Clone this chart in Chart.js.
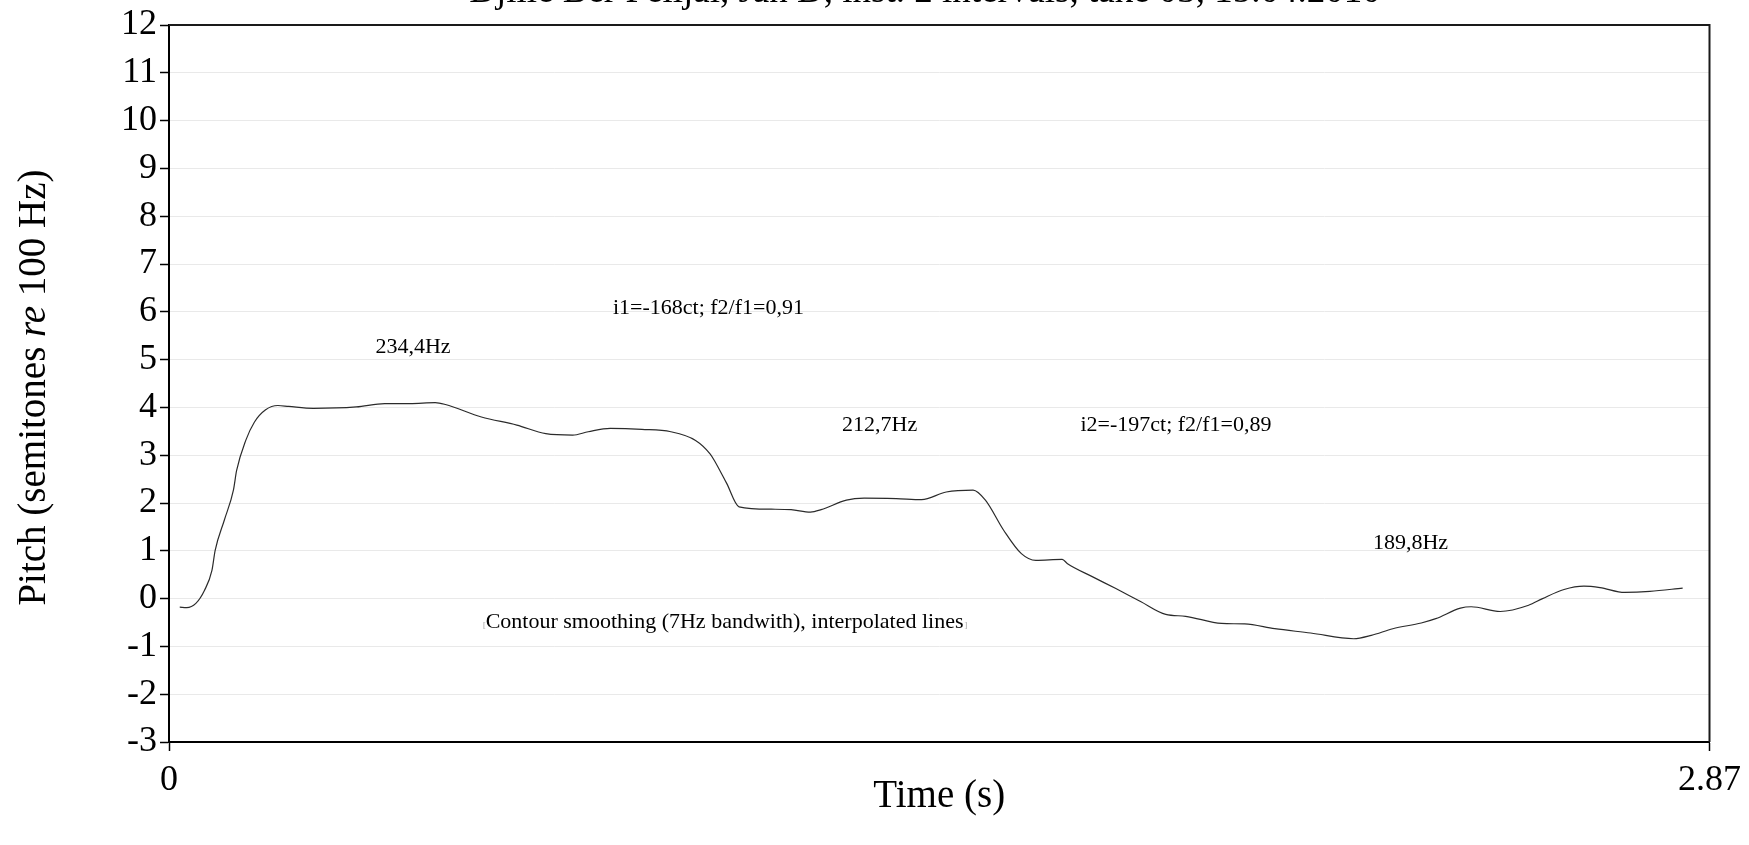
<!DOCTYPE html>
<html>
<head>
<meta charset="utf-8">
<script src="https://cdn.jsdelivr.net/npm/chart.js@4/dist/chart.umd.min.js"></script>
<style>
  html, body { margin: 0; padding: 0; background: #ffffff; }
  #wrap { width: 1749px; height: 845px; }
</style>
</head>
<body>
<div id="wrap"><canvas id="c" width="1749" height="845"></canvas></div>
<script>
// ---- data ----
const times = [0.020, 0.033, 0.050, 0.066, 0.080, 0.086, 0.103, 0.120, 0.126, 0.143,
  0.159, 0.180, 0.203, 0.223, 0.269, 0.349, 0.402, 0.449, 0.496, 0.515,
  0.582, 0.648, 0.702, 0.752, 0.781, 0.822, 0.881, 0.935, 0.981, 1.008,
  1.016, 1.039, 1.062, 1.122, 1.159, 1.195, 1.215, 1.262, 1.295, 1.355,
  1.402, 1.448, 1.498, 1.521, 1.555, 1.588, 1.615, 1.664, 1.674, 1.720,
  1.764, 1.810, 1.857, 1.894, 1.961, 2.004, 2.060, 2.127, 2.207, 2.240,
  2.280, 2.333, 2.360, 2.406, 2.426, 2.480, 2.533, 2.559, 2.599, 2.636,
  2.666, 2.712, 2.759, 2.820];
const pitches = [-0.18, -0.19, -0.10, 0.17, 0.59, 1.01, 1.64, 2.27, 2.68, 3.31,
  3.69, 3.95, 4.04, 4.02, 3.98, 4.01, 4.08, 4.08, 4.10, 4.06,
  3.80, 3.63, 3.45, 3.42, 3.49, 3.56, 3.54, 3.49, 3.31, 3.03,
  2.89, 2.41, 1.92, 1.87, 1.86, 1.81, 1.86, 2.06, 2.10, 2.09,
  2.07, 2.23, 2.27, 2.06, 1.43, 0.94, 0.80, 0.82, 0.73, 0.46,
  0.21, -0.06, -0.33, -0.37, -0.52, -0.53, -0.63, -0.72, -0.84, -0.77,
  -0.63, -0.51, -0.42, -0.20, -0.17, -0.27, -0.14, 0.00, 0.19, 0.26,
  0.23, 0.13, 0.15, 0.22];

const xMin = 0, xMax = 2.87;
const yMin = -3, yMax = 12, yStep = 1;
const xTickValues = [0, 2.87];
const xTickLabels = ['0', '2.87'];

const annoTexts = ['234,4Hz', 'i1=-168ct; f2/f1=0,91', '212,7Hz', 'i2=-197ct; f2/f1=0,89', '189,8Hz',
  'Contour smoothing (7Hz bandwith), interpolated lines'];
const annoTimes = [0.4545, 1.005, 1.324, 1.876, 2.313, 1.035];
const annoPitches = [5.13, 5.95, 3.51, 3.51, 1.03, -0.61];

const titleText = 'Djilie Ber Pelijai, Jan D, inst. 2 intervals, take 03, 15.04.2010';
const xTitle = 'Time (s)';
const yTitleParts = [['Pitch (semitones ', false], ['re', true], [' 100 Hz)', false]];

// ---- drawing ----
const SERIF = "'Liberation Serif', 'Times New Roman', serif";

const decorPlugin = {
  id: 'decor',
  afterDraw(chart) {
    const ctx = chart.ctx;
    const a = chart.chartArea;
    const xs = chart.scales.x, ys = chart.scales.y;
    ctx.save();
    // top & right frame
    ctx.strokeStyle = '#1a1a1a';
    ctx.lineWidth = 2;
    ctx.beginPath();
    ctx.moveTo(a.left, a.top);
    ctx.lineTo(a.right, a.top);
    ctx.lineTo(a.right, a.bottom);
    ctx.stroke();

    // annotations
    ctx.fillStyle = '#000';
    ctx.textBaseline = 'alphabetic';
    ctx.textAlign = 'center';
    for (let i = 0; i < annoTexts.length; i++) {
      const px = xs.getPixelForValue(annoTimes[i]);
      const py = ys.getPixelForValue(annoPitches[i]);
      const small = i === annoTexts.length - 1;
      ctx.font = '22px ' + SERIF;
      ctx.fillText(annoTexts[i], px, py);
      if (small) {
        const w = ctx.measureText(annoTexts[i]).width;
        ctx.font = '8px ' + SERIF;
        ctx.fillStyle = '#999';
        ctx.textAlign = 'right';
        ctx.fillText('[', px - w / 2, py);
        ctx.textAlign = 'left';
        ctx.fillText(']', px + w / 2 + 1, py);
        ctx.fillStyle = '#000';
        ctx.textAlign = 'center';
      }
    }

    // title (cut by the top of the picture)
    ctx.font = '37px ' + SERIF;
    ctx.textAlign = 'center';
    ctx.fillText(titleText, 925, 2);

    // x title
    ctx.font = '39px ' + SERIF;
    ctx.fillText(xTitle, (a.left + a.right) / 2, 807);

    // y title, rotated, with italic "re"
    const parts = yTitleParts.map(p => {
      ctx.font = (p[1] ? 'italic ' : '') + '39px ' + SERIF;
      return { t: p[0], it: p[1], w: ctx.measureText(p[0]).width };
    });
    const total = parts.reduce((s, p) => s + p.w, 0);
    ctx.translate(0, (a.top + a.bottom) / 2 + 4);
    ctx.rotate(-Math.PI / 2);
    ctx.textAlign = 'left';
    let cx = -total / 2;
    for (const p of parts) {
      ctx.font = (p.it ? 'italic ' : '') + '39px ' + SERIF;
      ctx.fillText(p.t, cx, 45);
      cx += p.w;
    }
    ctx.restore();
  }
};

const points = times.map((t, i) => ({ x: t, y: pitches[i] }));

new Chart(document.getElementById('c'), {
  type: 'line',
  data: {
    datasets: [{
      data: points,
      borderColor: '#2b2b2b',
      borderWidth: 1.2,
      pointRadius: 0,
      fill: false,
      cubicInterpolationMode: 'monotone'
    }]
  },
  options: {
    responsive: false,
    animation: false,
    layout: { padding: { top: 25, right: 39, left: 0, bottom: 0 } },
    plugins: { legend: { display: false }, tooltip: { enabled: false }, title: { display: false } },
    scales: {
      x: {
        type: 'linear',
        min: xMin,
        max: xMax,
        afterBuildTicks: s => { s.ticks = xTickValues.map(v => ({ value: v })); },
        afterFit: s => { s.height = 103; },
        ticks: {
          autoSkip: false,
          maxRotation: 0,
          color: '#000',
          padding: 8,
          font: { family: SERIF, size: 36 },
          callback: (v, i) => xTickLabels[i]
        },
        grid: { drawOnChartArea: false, drawTicks: true, tickLength: 9, tickColor: '#000', tickWidth: 1.5 },
        border: { display: true, color: '#000', width: 2 }
      },
      y: {
        min: yMin,
        max: yMax,
        afterFit: s => { s.width = 169; },
        ticks: {
          stepSize: yStep,
          color: '#000',
          padding: 3,
          font: { family: SERIF, size: 36 },
          callback: v => String(v)
        },
        grid: { color: '#e9e9e9', lineWidth: 1, drawTicks: true, tickLength: 9, tickColor: '#000', tickWidth: 1.5 },
        border: { display: true, color: '#000', width: 2 }
      }
    }
  },
  plugins: [decorPlugin]
});
</script>
</body>
</html>
